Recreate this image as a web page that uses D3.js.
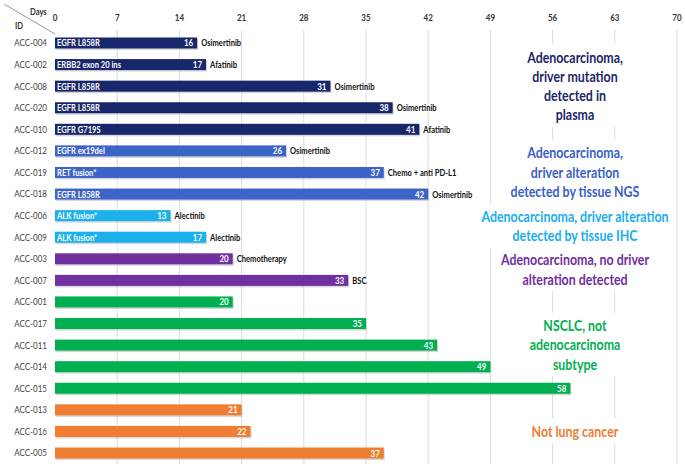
<!DOCTYPE html>
<html><head><meta charset="utf-8">
<script src="https://cdn.jsdelivr.net/npm/d3@7"></script>
<style>body{margin:0;background:#fff}svg{display:block}</style>
</head><body>
<svg id="c" width="685" height="467"></svg>
<script>
const ids = ["ACC-004","ACC-002","ACC-008","ACC-020","ACC-010","ACC-012","ACC-019","ACC-018","ACC-006","ACC-009","ACC-003","ACC-007","ACC-001","ACC-017","ACC-011","ACC-014","ACC-015","ACC-013","ACC-016","ACC-005"];
const days = [16,17,31,38,41,26,37,42,13,17,20,33,20,35,43,49,58,21,22,37];
const alterations = ["EGFR L858R","ERBB2 exon 20 ins","EGFR L858R","EGFR L858R","EGFR G719S","EGFR ex19del","RET fusion*","EGFR L858R","ALK fusion*","ALK fusion*","","","","","","","","","",""];
const treatments = ["Osimertinib","Afatinib","Osimertinib","Osimertinib","Afatinib","Osimertinib","Chemo + anti PD-L1","Osimertinib","Alectinib","Alectinib","Chemotherapy","BSC","","","","","","","",""];
const groups = [0,0,0,0,0,1,1,1,2,2,3,3,4,4,4,4,4,5,5,5];
const groupLabels = [
  ["Adenocarcinoma,","driver mutation","detected in","plasma"],
  ["Adenocarcinoma,","driver alteration","detected by tissue NGS"],
  ["Adenocarcinoma, driver alteration","detected by tissue IHC"],
  ["Adenocarcinoma, no driver","alteration detected"],
  ["NSCLC, not","adenocarcinoma","subtype"],
  ["Not lung cancer"]
];
const barColors = ["#18266b","#3c64c8","#1cb0ec","#7030a0","#00b050","#ef7d32"];
const textColors = ["#1c2768","#3a60c8","#19aeee","#7030a0","#00b050","#ed7d31"];
const xTicks = [0,7,14,21,28,35,42,49,56,63,70];

const FONT = "Lato, 'DejaVu Sans', sans-serif";
const SX = 0.8;
const svg = d3.select("#c");
const x = d3.scaleLinear().domain([0,70]).range([55,677]);
const y = d3.scaleBand().domain(ids).range([32.2,463.8]).padding(0);
const bh = 11;

// gridlines
svg.append("g").selectAll("line").data(xTicks.filter(d=>d>0)).join("line")
  .attr("x1",d=>x(d)).attr("x2",d=>x(d)).attr("y1",30).attr("y2",464)
  .attr("stroke","#dcdcdc").attr("stroke-width",1);

function stext(g, tx, ty, str, size, weight, fill, anchor){
  return g.append("text").attr("transform",`translate(${tx},${ty}) scale(${SX},1)`)
    .attr("font-family",FONT).attr("font-size",size).attr("font-weight",weight)
    .attr("fill",fill).attr("text-anchor",anchor||"start").text(str);
}

// top axis
const ax = svg.append("g").attr("transform","translate(0,21)").call(d3.axisTop(x).tickValues(xTicks).tickSize(0).tickPadding(0));
ax.select(".domain").remove();
ax.selectAll("text").attr("font-family",FONT).attr("font-size",10).attr("font-weight","bold").attr("fill","#333")
  .attr("transform",function(){return null;});
ax.selectAll(".tick text").each(function(){
  const t=d3.select(this); t.attr("transform",`scale(${SX},1)`);
});
ax.selectAll(".tick").attr("transform",d=>`translate(${x(d)},0)`);
ax.selectAll(".tick text").attr("x",0).attr("dy","0").attr("y",0);

// corner header
svg.append("line").attr("x1",4).attr("y1",4).attr("x2",55).attr("y2",34).attr("stroke","#999").attr("stroke-width",1);
stext(svg,30,15,"Days",9.5,"bold","#333");
stext(svg,15,29,"ID",9.5,"bold","#333");

// row labels
const rows = svg.append("g");
ids.forEach((id,i)=>{
  stext(rows,47,y(id)+y.bandwidth()/2+3.4,id,10,"normal","#444","end");
});

// bars
const bars = svg.append("g");
bars.selectAll("rect.sh").data(ids).join("rect").attr("class","sh")
  .attr("x",x(0)+1).attr("y",d=>y(d)+y.bandwidth()/2-bh/2+1.5)
  .attr("width",(d,i)=>x(days[i])-x(0)).attr("height",bh).attr("fill","#bdbdbd").attr("opacity",0.6);
bars.selectAll("rect.b").data(ids).join("rect").attr("class","b")
  .attr("x",x(0)).attr("y",d=>y(d)+y.bandwidth()/2-bh/2)
  .attr("width",(d,i)=>x(days[i])-x(0)).attr("height",bh).attr("fill",(d,i)=>barColors[groups[i]]);

const lab = svg.append("g");
ids.forEach((id,i)=>{
  const cy = y(id)+y.bandwidth()/2;
  if(alterations[i]) stext(lab,x(0)+2,cy+3.5,alterations[i],9.5,"bold","#fff");
  stext(lab,x(days[i])-4,cy+3.5,String(days[i]),10,"bold","#fff","end");
  if(treatments[i]) stext(lab,x(days[i])+4,cy+3.5,treatments[i],9.5,"bold","#111");
});

// annotations
const LH = 19.3;
groupLabels.forEach((lines,gi)=>{
  const rowsIn = ids.filter((d,i)=>groups[i]===gi);
  const c0 = y(rowsIn[0])+y.bandwidth()/2, c1 = y(rowsIn[rowsIn.length-1])+y.bandwidth()/2;
  const mid = (c0+c1)/2;
  const g = svg.append("g");
  const bg = g.append("rect").attr("fill","#fff");
  const top = mid - (lines.length-1)*LH/2;
  lines.forEach((ln,li)=>{
    stext(g,575,top+li*LH+5.3,ln,15.5,"bold",textColors[gi],"middle");
  });
  const bb = g.node().getBBox();
  bg.attr("x",bb.x-5).attr("y",bb.y-3).attr("width",bb.width+10).attr("height",bb.height+6);
});
</script>
</body></html>
